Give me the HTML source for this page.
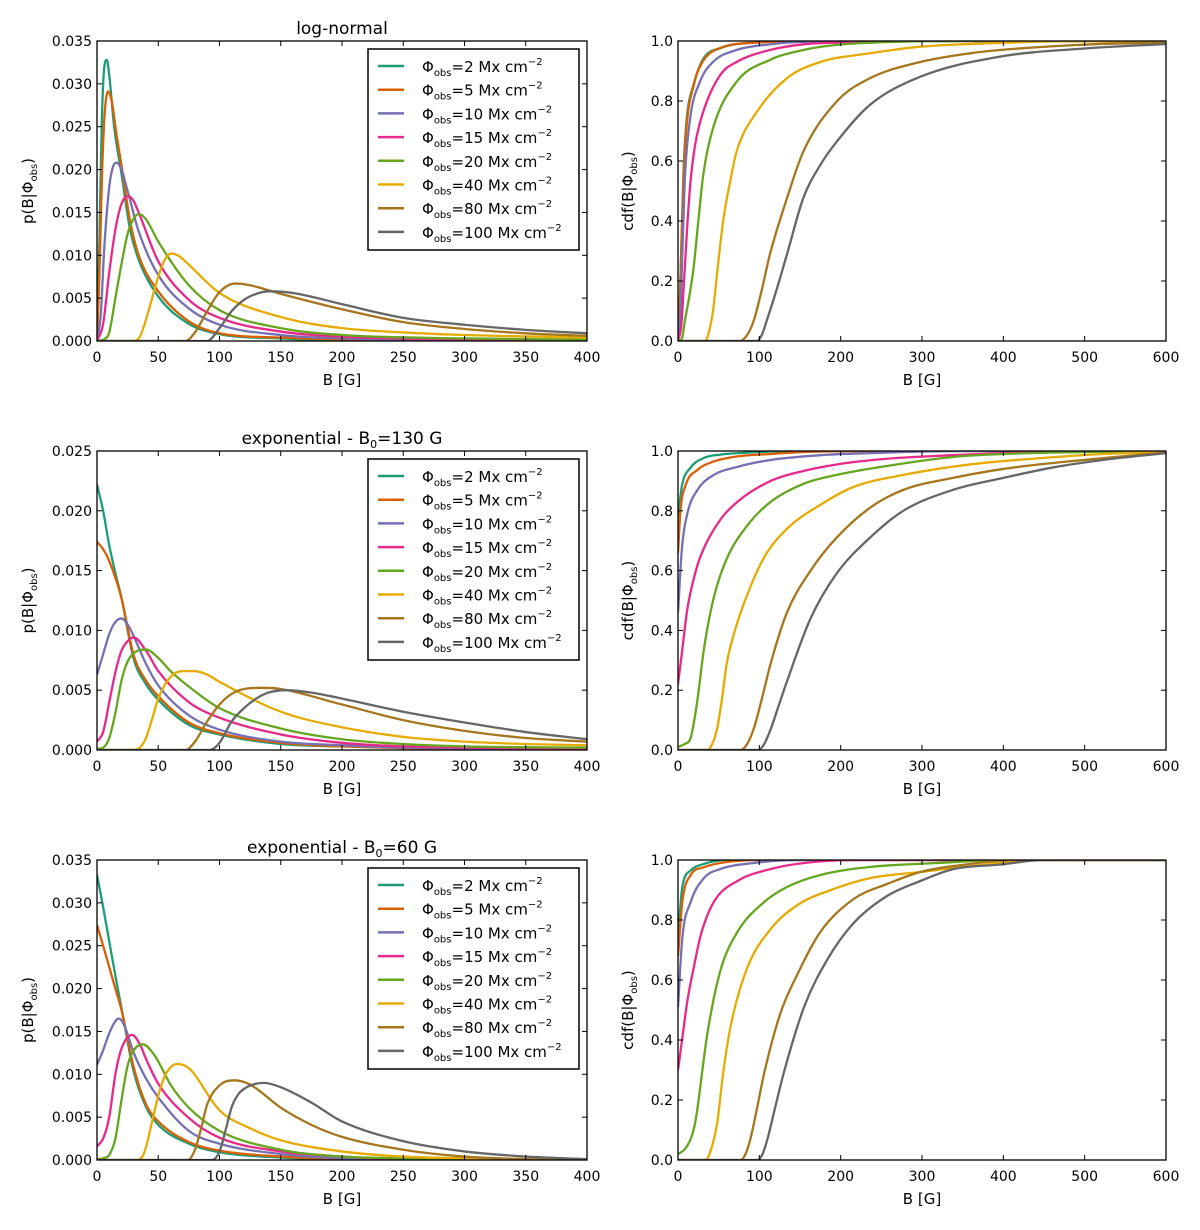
<!DOCTYPE html>
<html><head><meta charset="utf-8"><style>
html,body{margin:0;padding:0;background:#fff;}
svg{display:block;font-family:"DejaVu Sans","Liberation Sans",sans-serif;}
</style></head><body>
<svg id="fig" width="1200" height="1230" viewBox="0 0 1200 1230" xmlns="http://www.w3.org/2000/svg"></svg>
<script>
const colors = ["#1b9e77","#d95f02","#7570b3","#e7298a","#66a61e","#e6ab02","#a6761d","#666666"];
const phiValues = [2,5,10,15,20,40,80,100];
const pdfXTicks = [0,50,100,150,200,250,300,350,400];
const cdfXTicks = [0,100,200,300,400,500,600];
const cdfYTicks = [0,0.2,0.4,0.6,0.8,1.0];
const pdfYTicks35 = [0,0.005,0.010,0.015,0.020,0.025,0.030,0.035];
const pdfYTicks25 = [0,0.005,0.010,0.015,0.020,0.025];

const pdfLogNormal = [
 [[0,0],[2,0.012],[4,0.026],[6,0.032],[8,0.0328],[10,0.031],[14,0.025],[20,0.0195],[27,0.013],[34,0.0095],[50,0.0052],[75,0.002],[100,0.0008],[150,0.0003],[200,0.0001],[400,0]],
 [[0,0],[2,0.008],[4,0.019],[6,0.026],[9,0.0291],[12,0.028],[16,0.024],[20,0.0205],[27,0.014],[34,0.0100],[50,0.0058],[75,0.0023],[100,0.0009],[150,0.0004],[200,0.0002],[400,0.00005]],
 [[0,0],[3,0.003],[6,0.011],[10,0.018],[13,0.0203],[16,0.0208],[20,0.0200],[25,0.0175],[34,0.0128],[50,0.0077],[75,0.0038],[100,0.0019],[150,0.0007],[200,0.0003],[300,0.0001],[400,0.00005]],
 [[0,0],[5,0.002],[10,0.008],[15,0.013],[20,0.0160],[25.6,0.0169],[30,0.0163],[34,0.0150],[50,0.0093],[75,0.0048],[100,0.0027],[150,0.0011],[200,0.0005],[300,0.0002],[400,0.0001]],
 [[0,0],[7,0.0003],[10,0.001],[15,0.005],[20,0.009],[25,0.0125],[30,0.0143],[34,0.0148],[40,0.0142],[50,0.0116],[75,0.0065],[100,0.0036],[150,0.0015],[200,0.0007],[300,0.0003],[400,0.00015]],
 [[0,0],[30,0],[35,0.0005],[40,0.0025],[45,0.005],[50,0.0075],[55,0.0094],[60.6,0.0102],[67,0.0099],[75,0.0089],[100,0.0056],[150,0.0028],[200,0.0015],[250,0.0010],[300,0.0007],[400,0.0004]],
 [[0,0],[72,0],[80,0.001],[90,0.0035],[100,0.0057],[113,0.0067],[125,0.0065],[150,0.0055],[200,0.0037],[250,0.0022],[300,0.0014],[350,0.0009],[400,0.0006]],
 [[0,0],[90,0],[100,0.0015],[110,0.0035],[120,0.0048],[130,0.0055],[141,0.0058],[160,0.0056],[200,0.0043],[250,0.0027],[300,0.0019],[350,0.0013],[400,0.0009]]
];
const pdfExp130 = [
 [[0,0.0222],[5,0.0200],[10,0.0171],[15,0.0148],[20,0.0127],[30,0.0076],[40,0.0055],[50,0.0042],[75,0.0021],[100,0.0013],[150,0.0005],[200,0.0003],[300,0.0001],[400,0.00005]],
 [[0,0.0174],[5,0.0168],[10,0.0158],[20,0.0127],[30,0.0079],[40,0.0058],[50,0.0045],[75,0.0023],[100,0.0014],[150,0.0006],[200,0.0003],[300,0.0001],[400,0.00005]],
 [[0,0.0063],[5,0.0080],[10,0.0097],[15,0.0107],[20,0.0110],[25,0.0105],[30,0.0095],[40,0.0072],[50,0.0054],[75,0.0029],[100,0.0017],[150,0.0007],[200,0.0004],[250,0.0002],[400,0.0001]],
 [[0,0.0007],[5,0.0015],[10,0.0040],[15,0.0065],[20,0.0083],[25,0.0091],[30,0.0094],[40,0.0083],[50,0.0066],[75,0.0040],[100,0.0027],[150,0.0013],[200,0.0006],[250,0.0003],[300,0.0002],[400,0.0001]],
 [[0,0.0001],[5,0.0002],[10,0.001],[15,0.0031],[20,0.0058],[25,0.0074],[30,0.0081],[40,0.0084],[50,0.0077],[60,0.0066],[75,0.0053],[100,0.0035],[150,0.0018],[200,0.0009],[250,0.0005],[300,0.0003],[400,0.0002]],
 [[0,0],[30,0],[35,0.0002],[40,0.0010],[45,0.0026],[50,0.0043],[60,0.0061],[70,0.0066],[79,0.0066],[90,0.0063],[100,0.0057],[150,0.0032],[200,0.0019],[250,0.0011],[300,0.0007],[350,0.0005],[400,0.0004]],
 [[0,0],[72,0],[80,0.0007],[90,0.0024],[100,0.0038],[110,0.0047],[120,0.0051],[135,0.0052],[150,0.0051],[200,0.0038],[250,0.0025],[300,0.0016],[350,0.0010],[400,0.0007]],
 [[0,0],[92,0],[100,0.0006],[110,0.0024],[120,0.0035],[130,0.0043],[140,0.0048],[154,0.0050],[175,0.0048],[200,0.0043],[250,0.0032],[300,0.0023],[350,0.0015],[400,0.0009]]
];
const pdfExp60 = [
 [[0,0.0333],[5,0.0295],[10,0.0255],[15,0.0215],[20,0.0177],[30,0.0103],[40,0.0062],[50,0.0041],[75,0.0019],[100,0.0009],[150,0.0003],[200,0.0001],[400,0]],
 [[0,0.0274],[5,0.0250],[10,0.0225],[15,0.0200],[20,0.0175],[30,0.0108],[40,0.0065],[50,0.0045],[75,0.0021],[100,0.0011],[150,0.0004],[200,0.0001],[400,0]],
 [[0,0.0111],[5,0.0128],[10,0.0148],[15,0.0162],[18,0.0165],[22,0.0158],[30,0.0125],[40,0.0095],[50,0.0073],[75,0.0034],[100,0.0019],[150,0.0007],[200,0.0002],[400,0]],
 [[0,0.0016],[5,0.0025],[10,0.0050],[15,0.0100],[20,0.0130],[28.6,0.0146],[35,0.0135],[40,0.0118],[50,0.0089],[75,0.0049],[100,0.0026],[150,0.0010],[200,0.0004],[250,0.0001],[400,0]],
 [[0,0.0001],[5,0.0002],[10,0.0006],[15,0.0025],[20,0.0070],[25,0.0110],[30,0.0128],[37.6,0.0135],[45,0.0126],[50,0.0115],[60,0.0088],[75,0.0061],[100,0.0034],[150,0.0012],[200,0.0004],[250,0.0002],[400,0]],
 [[0,0],[32,0],[37,0.0004],[40,0.0015],[45,0.0045],[50,0.0075],[55,0.0097],[60,0.0108],[65,0.0112],[75,0.0107],[100,0.0058],[125,0.0037],[150,0.0023],[200,0.0010],[250,0.0004],[300,0.0002],[400,0]],
 [[0,0],[74,0],[80,0.0012],[85,0.0037],[90,0.0065],[100,0.0087],[112,0.0093],[125,0.0088],[150,0.0061],[175,0.0041],[200,0.0027],[250,0.0012],[300,0.0004],[350,0.0001],[400,0]],
 [[0,0],[94,0],[100,0.0010],[105,0.0035],[110,0.0062],[115,0.0076],[120,0.0083],[136,0.0090],[150,0.0085],[175,0.0067],[200,0.0045],[250,0.0022],[300,0.0010],[350,0.0004],[400,0.0001]]
];
const cdfLogNormal = [
 [[0,0],[2,0.12],[4.5,0.35],[7,0.58],[10.7,0.74],[19,0.853],[31,0.94],[52,0.976],[93,0.995],[150,1],[600,1]],
 [[0,0],[2,0.1],[4,0.3],[7,0.55],[10,0.7],[20,0.86],[30,0.93],[50,0.975],[100,0.995],[160,1],[600,1]],
 [[0,0],[3,0.1],[6,0.35],[8.6,0.55],[14.8,0.74],[27,0.864],[43,0.93],[72,0.97],[113,0.989],[154,0.997],[250,1],[600,1]],
 [[0,0],[4,0.05],[7,0.18],[10.7,0.353],[15,0.52],[21,0.653],[31,0.764],[52,0.887],[72,0.93],[113,0.97],[154,0.989],[200,0.995],[300,1],[600,1]],
 [[0,0],[5,0.01],[8.6,0.07],[14,0.15],[19,0.24],[25,0.4],[31,0.553],[43,0.709],[72,0.864],[113,0.937],[154,0.97],[195,0.987],[277,0.998],[350,1],[600,1]],
 [[0,0],[33,0],[38,0.03],[43,0.1],[49,0.25],[56,0.41],[64,0.53],[72,0.631],[97,0.764],[134,0.876],[175,0.93],[236,0.959],[298,0.981],[380,0.992],[450,0.998],[600,1]],
 [[0,0],[76,0],[85,0.02],[93,0.067],[103,0.17],[113,0.289],[134,0.476],[154,0.631],[195,0.798],[236,0.876],[298,0.93],[359,0.959],[396,0.97],[500,0.988],[600,0.995]],
 [[0,0],[97,0],[103,0.02],[109,0.067],[120,0.16],[134,0.289],[154,0.476],[175,0.587],[195,0.664],[236,0.787],[298,0.881],[396,0.948],[500,0.975],[600,0.99]]
];
const cdfExp130 = [
 [[0,0.78],[5,0.886],[15,0.943],[32,0.977],[52,0.988],[81,0.994],[150,1],[600,1]],
 [[0,0.66],[3,0.8],[9.4,0.886],[24,0.937],[44,0.965],[73,0.982],[114,0.99],[160,0.997],[250,1],[600,1]],
 [[0,0.46],[5,0.68],[11.4,0.79],[24,0.87],[44,0.92],[73,0.947],[114,0.97],[175,0.986],[236,0.993],[350,1],[600,1]],
 [[0,0.22],[5,0.33],[11.4,0.47],[20,0.58],[28,0.65],[52,0.77],[73,0.83],[114,0.9],[154,0.933],[195,0.955],[257,0.974],[338,0.986],[400,0.993],[600,1]],
 [[0,0.01],[8,0.02],[15.5,0.04],[20,0.1],[24,0.17],[32,0.34],[44,0.51],[60,0.64],[85,0.75],[114,0.83],[154,0.89],[195,0.92],[257,0.95],[338,0.98],[400,0.99],[600,1]],
 [[0,0],[36,0],[42,0.02],[48,0.07],[54,0.17],[60,0.29],[70,0.4],[81,0.49],[105,0.64],[134,0.74],[175,0.82],[216,0.88],[277,0.92],[359,0.955],[440,0.975],[522,0.99],[600,0.996]],
 [[0,0],[77,0],[85,0.02],[93,0.07],[103,0.17],[114,0.29],[134,0.46],[163,0.6],[195,0.71],[236,0.81],[277,0.87],[338,0.91],[400,0.94],[461,0.96],[522,0.976],[600,0.995]],
 [[0,0],[99,0],[106,0.02],[114,0.07],[124,0.15],[134,0.23],[163,0.44],[195,0.59],[236,0.71],[277,0.8],[338,0.87],[400,0.91],[461,0.945],[522,0.97],[600,0.993]]
];
const cdfExp60 = [
 [[0,0.74],[5.3,0.91],[15.6,0.965],[32,0.987],[60,1],[600,1]],
 [[0,0.68],[5.3,0.86],[15.6,0.95],[32,0.976],[52,0.99],[100,1],[600,1]],
 [[0,0.51],[5.3,0.74],[15.6,0.86],[32,0.94],[52,0.97],[93,0.99],[150,1],[600,1]],
 [[0,0.3],[5,0.4],[11.5,0.53],[20,0.65],[28,0.75],[44,0.86],[73,0.93],[114,0.97],[155,0.99],[220,1],[600,1]],
 [[0,0.02],[8,0.035],[15.6,0.07],[20,0.11],[23.8,0.17],[30,0.3],[36,0.42],[52,0.63],[73,0.76],[106,0.86],[134,0.91],[175,0.95],[237,0.977],[319,0.99],[400,1],[600,1]],
 [[0,0],[34,0],[40,0.03],[48,0.12],[56,0.3],[65,0.45],[85,0.64],[114,0.77],[147,0.85],[188,0.9],[237,0.94],[298,0.96],[360,0.98],[450,1],[600,1]],
 [[0,0],[77,0],[83,0.02],[89,0.07],[97,0.17],[106,0.29],[126,0.49],[147,0.62],[175,0.76],[216,0.87],[257,0.92],[298,0.96],[339,0.98],[420,1],[600,1]],
 [[0,0],[98,0],[104,0.02],[110,0.07],[119,0.17],[130,0.29],[155,0.51],[184,0.67],[216,0.79],[257,0.88],[298,0.93],[339,0.97],[397,0.985],[450,1],[600,1]]
];

const NS = "http://www.w3.org/2000/svg";
const svg = document.getElementById("fig");
function mk(tag, attrs, parent){
  const e = document.createElementNS(NS, tag);
  for (const k in attrs) e.setAttribute(k, attrs[k]);
  (parent||svg).appendChild(e);
  return e;
}
function monoPath(pts, sx, sy){
  const n = pts.length; const xs = pts.map(p=>p[0]); const ys = pts.map(p=>p[1]);
  const d = [], m = new Array(n);
  for (let i=0;i<n-1;i++) d.push((ys[i+1]-ys[i])/(xs[i+1]-xs[i]));
  m[0]=d[0]; m[n-1]=d[n-2];
  for (let i=1;i<n-1;i++){ m[i] = (d[i-1]*d[i]<=0)?0:(d[i-1]+d[i])/2; }
  for (let i=0;i<n-1;i++){
    if (d[i]===0){ m[i]=0; m[i+1]=0; continue; }
    const a=m[i]/d[i], b=m[i+1]/d[i], s=a*a+b*b;
    if (s>9){ const t=3/Math.sqrt(s); m[i]=t*a*d[i]; m[i+1]=t*b*d[i]; }
  }
  let p = "M"+sx(xs[0]).toFixed(2)+","+sy(ys[0]).toFixed(2);
  for (let i=0;i<n-1;i++){
    const h=xs[i+1]-xs[i];
    p += "C"+sx(xs[i]+h/3).toFixed(2)+","+sy(ys[i]+m[i]*h/3).toFixed(2)+" "+
         sx(xs[i+1]-h/3).toFixed(2)+","+sy(ys[i+1]-m[i+1]*h/3).toFixed(2)+" "+
         sx(xs[i+1]).toFixed(2)+","+sy(ys[i+1]).toFixed(2);
  }
  return p;
}
let clipId = 0;
function panel(cfg){
  const {x0,x1,y0,y1,xmax,ymax,xticks,yticks,ylabFmt,series,name,cdf} = cfg;
  const sx = v => x0 + (x1-x0)*v/xmax;
  const sy = v => y1 - (y1-y0)*v/ymax;
  const g = mk("g", {});
  
  
  const cid = "clip"+(clipId++);
  const cp = mk("clipPath", {id:cid}, g);
  mk("rect", {x:x0,y:y0,width:x1-x0,height:y1-y0}, cp);
  const lines = mk("g", {"clip-path":"url(#"+cid+")"}, g);
  series.forEach((pts,i)=>{
    const p = mk("path", {d:monoPath(pts,sx,sy), fill:"none", stroke:colors[i], "stroke-width":2.3, "stroke-linejoin":"round"}, lines);
    
    
  });
  mk("rect", {x:x0,y:y0,width:x1-x0,height:y1-y0,fill:"none",stroke:"#000","stroke-width":1.3}, g);
  xticks.forEach(t=>{
    const x = sx(t);
    mk("line",{x1:x,x2:x,y1:y1,y2:y1-5,stroke:"#000","stroke-width":1},g);
    mk("line",{x1:x,x2:x,y1:y0,y2:y0+5,stroke:"#000","stroke-width":1},g);
    const tx = mk("text",{x:x,y:y1+21,"font-size":14,"text-anchor":"middle",fill:"#000"},g);
    tx.textContent = t;
    
    
  });
  yticks.forEach(t=>{
    const y = sy(t);
    mk("line",{x1:x0,x2:x0+5,y1:y,y2:y,stroke:"#000","stroke-width":1},g);
    mk("line",{x1:x1,x2:x1-5,y1:y,y2:y,stroke:"#000","stroke-width":1},g);
    const ty = mk("text",{x:x0-5,y:y+5,"font-size":14,"text-anchor":"end",fill:"#000"},g);
    ty.textContent = ylabFmt(t);
    
    
  });
  const xl = mk("text",{x:(x0+x1)/2,y:y1+44,"font-size":15,"text-anchor":"middle"},g);
  xl.textContent = "B [G]";
  
  
  const lx = x0 - (cdf?45:64), ly=(y0+y1)/2;
  const yl = mk("text",{x:lx,y:ly,"font-size":15,"text-anchor":"middle",transform:"rotate(-90 "+lx+" "+ly+")"},g);
  
  
  yl.innerHTML = (cdf?"cdf":"p")+'(B|Φ<tspan font-size="10" dy="4">obs</tspan><tspan dy="-4">)</tspan>';
  return {sx,sy,g};
}
function legend(top){
  const g = mk("g",{});
  
  
  mk("rect",{x:368,y:top,width:211,height:201,fill:"#fff",stroke:"#000","stroke-width":1.5},g);
  phiValues.forEach((v,i)=>{
    const y = top+17+i*23.7;
    const e = mk("g",{},g);
    
    
    mk("line",{x1:378,x2:404,y1:y,y2:y,stroke:colors[i],"stroke-width":2.5},e);
    const t = mk("text",{x:422,y:y+6,"font-size":15},e);
    t.innerHTML = 'Φ<tspan font-size="10" dy="4">obs</tspan><tspan dy="-4">='+v+' Mx cm</tspan><tspan font-size="10" dy="-7">−2</tspan>';
  });
}
function title(txt, y){
  const t = mk("text",{x:342,y:y,"font-size":17,"text-anchor":"middle"});
  
  
  t.innerHTML = txt;
}
const f3 = t => t.toFixed(3);
const f1 = t => t.toFixed(1);
const rows = [
  {y0:41,y1:341,pdf:pdfLogNormal,cdf:cdfLogNormal,ymax:0.035,yt:pdfYTicks35,title:"log-normal",n:"lognormal"},
  {y0:451,y1:750,pdf:pdfExp130,cdf:cdfExp130,ymax:0.025,yt:pdfYTicks25,title:'exponential - B<tspan font-size="11" dy="4">0</tspan><tspan dy="-4">=130 G</tspan>',n:"exp-b0-130"},
  {y0:860,y1:1160,pdf:pdfExp60,cdf:cdfExp60,ymax:0.035,yt:pdfYTicks35,title:'exponential - B<tspan font-size="11" dy="4">0</tspan><tspan dy="-4">=60 G</tspan>',n:"exp-b0-60"}
];
rows.forEach(r=>{
  panel({x0:97,x1:587,y0:r.y0,y1:r.y1,xmax:400,ymax:r.ymax,xticks:pdfXTicks,yticks:r.yt,ylabFmt:f3,series:r.pdf,name:"pdf-panel-"+r.n,cdf:false});
  panel({x0:678,x1:1166,y0:r.y0,y1:r.y1,xmax:600,ymax:1.0,xticks:cdfXTicks,yticks:cdfYTicks,ylabFmt:f1,series:r.cdf,name:"cdf-panel-"+r.n,cdf:true});
  legend(r.y0+8);
  title(r.title, r.y0-7);
});
</script>
</body></html>
